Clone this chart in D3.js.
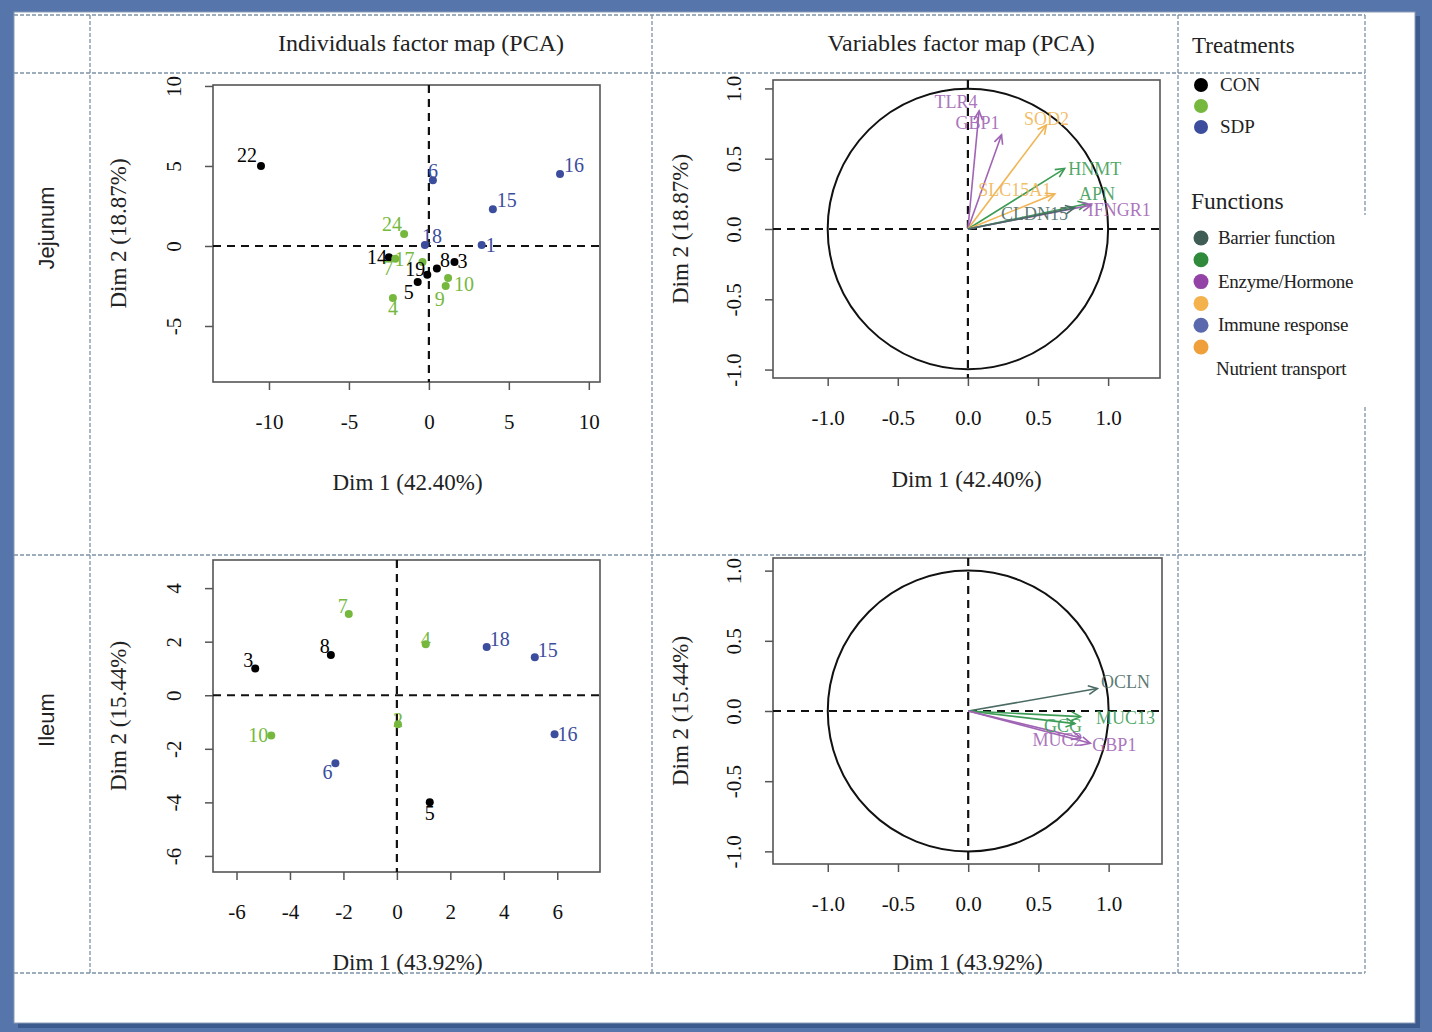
<!DOCTYPE html>
<html>
<head>
<meta charset="utf-8">
<script src="https://cdn.jsdelivr.net/npm/d3@7"></script>
<style>
  html, body { margin: 0; padding: 0; background: #5675ab; }
  svg { display: block; }
</style>
</head>
<body>
<div id="mainDiv"></div>
<script>
'use strict';

// ---- data ----
var jejunumIds       = ['22', '16', '15', '6', '1', '18', '24', '14', '7', '17', '19', '5', '8', '3', '10', '9', '4'];
var jejunumDim1      = [-10.5, 8.2, 4.0, 0.25, 3.3, -0.25, -1.55, -2.5, -2.1, -0.4, -0.1, -0.7, 0.5, 1.6, 1.2, 1.05, -2.25];
var jejunumDim2      = [5.0, 4.5, 2.3, 4.1, 0.06, 0.06, 0.75, -0.7, -0.8, -1.0, -1.8, -2.25, -1.4, -1.0, -2.0, -2.5, -3.25];
var jejunumTreatment = ['CON', 'SDP', 'SDP', 'SDP', 'SDP', 'SDP', 'G', 'CON', 'G', 'G', 'CON', 'CON', 'CON', 'CON', 'G', 'G', 'G'];

var ileumIds       = ['3', '8', '7', '4', '18', '15', '16', '10', '6', '5', '2'];
var ileumDim1      = [-5.3, -2.47, -1.8, 1.08, 3.36, 5.16, 5.9, -4.7, -2.3, 1.23, 0.04];
var ileumDim2      = [1.0, 1.5, 3.03, 1.9, 1.8, 1.42, -1.46, -1.5, -2.54, -4.0, -1.08];
var ileumTreatment = ['CON', 'CON', 'G', 'G', 'SDP', 'SDP', 'SDP', 'G', 'SDP', 'CON', 'G'];

var jejunumVars     = ['TLR4', 'GBP1', 'SOD2', 'HNMT', 'SLC15A1', 'APN', 'IFNGR1', 'CLDN15'];
var jejunumVarDim1  = [0.08, 0.24, 0.56, 0.69, 0.62, 0.85, 0.88, 0.76];
var jejunumVarDim2  = [0.84, 0.67, 0.74, 0.43, 0.25, 0.18, 0.17, 0.15];
var jejunumVarFunc  = ['Enzyme', 'Enzyme', 'Yellow', 'Green', 'Yellow', 'Green', 'Enzyme', 'Barrier'];

var ileumVars     = ['OCLN', 'MUC13', 'GCG', 'MUC2', 'GBP1'];
var ileumVarDim1  = [0.92, 0.80, 0.76, 0.80, 0.87];
var ileumVarDim2  = [0.16, -0.04, -0.09, -0.19, -0.23];
var ileumVarFunc  = ['Barrier', 'Green', 'Green', 'Enzyme', 'Enzyme'];

var jejunumXTicks = [-10, -5, 0, 5, 10];
var jejunumYTicks = [10, 5, 0, -5];
var ileumXTicks   = [-6, -4, -2, 0, 2, 4, 6];
var ileumYTicks   = [4, 2, 0, -2, -4, -6];
var varTicks      = [-1.0, -0.5, 0.0, 0.5, 1.0];

var treatmentKeys   = ['CON', 'G', 'SDP'];
var treatmentLabels = ['CON', '', 'SDP'];
var functionKeys    = ['Barrier', 'Green', 'Enzyme', 'Yellow', 'Immune', 'Nutrient'];
var functionLabels  = ['Barrier function', '', 'Enzyme/Hormone', '', 'Immune response', '', 'Nutrient transport'];

// ---- styles ----
var myApp = {};

myApp.treatmentColor = d3.scaleOrdinal()
    .domain(treatmentKeys)
    .range(['#000000', '#76b83e', '#3b4d9c']);

myApp.functionColor = d3.scaleOrdinal()
    .domain(functionKeys)
    .range(['#3f5c55', '#2f8a3c', '#9343a6', '#f3b24c', '#5a69ae', '#f0a03a']);

myApp.arrowColor = d3.scaleOrdinal()
    .domain(functionKeys)
    .range(['#4a6a64', '#3c9c55', '#a064b4', '#f0b555', '#5a69ae', '#f0a03a']);

myApp.serif = '"Liberation Serif", "DejaVu Serif", serif';
myApp.sans  = '"Liberation Sans", Arial, sans-serif';

// label offsets relative to the point, [dx, dy, anchor]
myApp.jejunumLabelPos = {
    '22': [-4, -4, 'end'], '16': [4, -2, 'start'], '15': [4, -2, 'start'], '6': [0, -2, 'middle'],
    '1': [4, 7, 'start'], '18': [-3, -2, 'start'], '24': [-2, -3, 'end'], '14': [-2, 7, 'end'],
    '7': [-2, 16, 'end'], '17': [-8, 4, 'end'], '19': [-2, 1, 'end'], '5': [-4, 17, 'end'],
    '8': [3, -1, 'start'], '3': [3, 6, 'start'], '10': [6, 13, 'start'], '9': [-6, 20, 'middle'],
    '4': [0, 17, 'middle']
};
myApp.ileumLabelPos = {
    '3': [-2, -1, 'end'], '8': [-1, -2, 'end'], '7': [-1, -1, 'end'], '4': [0, 2, 'middle'],
    '18': [3, -1, 'start'], '15': [3, 0, 'start'], '16': [3, 7, 'start'], '10': [-3, 7, 'end'],
    '6': [-3, 16, 'end'], '5': [0, 18, 'middle'], '2': [0, 3, 'middle']
};
myApp.jejunumVarLabelPos = {
    'TLR4': [-23, -3, 'middle'], 'GBP1': [-24, -6, 'middle'], 'SOD2': [0, 0, 'middle'],
    'HNMT': [30, 6, 'middle'], 'SLC15A1': [-40, 2, 'middle'], 'APN': [10, -4, 'middle'],
    'IFNGR1': [28, 11, 'middle'], 'CLDN15': [-40, 12, 'middle']
};
myApp.ileumVarLabelPos = {
    'OCLN': [28, -1, 'middle'], 'MUC13': [45, 7, 'middle'], 'GCG': [-12, 8, 'middle'],
    'MUC2': [-23, 8, 'middle'], 'GBP1': [24, 8, 'middle']
};

myApp.zip = function(ids, xs, ys, keys)
{
    var arr = [];
    for(var i=0; i<ids.length; i++)
    {
        arr.push({'id': ids[i], 'x': xs[i], 'y': ys[i], 'key': keys[i]});
    }
    return arr;
}

myApp.dashedGrid = function(svg, x1, y1, x2, y2)
{
    svg.append('line')
        .attr('x1', x1).attr('y1', y1).attr('x2', x2).attr('y2', y2)
        .attr('stroke', '#7f93a6')
        .attr('stroke-width', 1.3)
        .attr('stroke-dasharray', '4,2');
}

myApp.drawFrame = function(svg, cfg)
{
    var g = svg.append('g');
    var x = cfg.x, y = cfg.y;

    g.append('rect')
        .attr('x', x.range()[0]).attr('y', y.range()[0])
        .attr('width', x.range()[1] - x.range()[0])
        .attr('height', y.range()[1] - y.range()[0])
        .attr('fill', 'none')
        .attr('stroke', '#555')
        .attr('stroke-width', 1.6);

    var xAxis = g.append('g')
        .attr('transform', 'translate(0,' + y.range()[1] + ')')
        .call(d3.axisBottom(x).tickValues(cfg.xTicks).tickSize(8).tickPadding(24)
            .tickFormat(cfg.fmt));
    var yAxis = g.append('g')
        .attr('transform', 'translate(' + x.range()[0] + ',0)')
        .call(d3.axisLeft(y).tickValues(cfg.yTicks).tickSize(8).tickPadding(0)
            .tickFormat(cfg.fmt));

    [xAxis, yAxis].forEach(function(a){
        a.select('.domain').remove();
        a.selectAll('line').attr('stroke', '#555').attr('stroke-width', 1.5);
        a.selectAll('text')
            .attr('fill', '#111')
            .style('font-family', myApp.serif)
            .style('font-size', '21px');
    });

    yAxis.selectAll('text')
        .attr('x', null).attr('dy', null)
        .attr('text-anchor', 'middle')
        .attr('transform', 'translate(' + (-cfg.yLabelGap) + ',0) rotate(-90) translate(0,6)');

    // zero reference lines
    g.append('line')
        .attr('x1', x.range()[0]).attr('x2', x.range()[1])
        .attr('y1', y(0)).attr('y2', y(0))
        .attr('stroke', '#111').attr('stroke-width', 2.2).attr('stroke-dasharray', '8,6');
    g.append('line')
        .attr('x1', x(0)).attr('x2', x(0))
        .attr('y1', y.range()[0]).attr('y2', y.range()[1])
        .attr('stroke', '#111').attr('stroke-width', 2.2).attr('stroke-dasharray', '8,6');

    g.append('text')
        .attr('x', (x.range()[0] + x.range()[1]) / 2 + cfg.xTitleDx)
        .attr('y', cfg.xTitleY)
        .attr('text-anchor', 'middle')
        .style('font-family', myApp.serif).style('font-size', '23px').attr('fill', '#222')
        .text(cfg.xTitle);
    g.append('text')
        .attr('transform', 'translate(' + cfg.yTitleX + ',' + ((y.range()[0] + y.range()[1]) / 2) + ') rotate(-90)')
        .attr('text-anchor', 'middle')
        .attr('dy', '0.35em')
        .style('font-family', myApp.serif).style('font-size', '23px').attr('fill', '#222')
        .text(cfg.yTitle);

    return g;
}

myApp.drawIndividuals = function(svg, cfg, pts, labelPos)
{
    var g = myApp.drawFrame(svg, cfg);
    var x = cfg.x, y = cfg.y;

    g.selectAll('circle.pt')
        .data(pts)
        .enter()
        .append('circle')
        .attr('class', 'pt')
        .attr('cx', function(d){ return x(d.x); })
        .attr('cy', function(d){ return y(d.y); })
        .attr('r', 4)
        .attr('fill', function(d){ return myApp.treatmentColor(d.key); });

    g.selectAll('text.lab')
        .data(pts)
        .enter()
        .append('text')
        .attr('class', 'lab')
        .attr('x', function(d){ return x(d.x) + labelPos[d.id][0]; })
        .attr('y', function(d){ return y(d.y) + labelPos[d.id][1]; })
        .attr('text-anchor', function(d){ return labelPos[d.id][2]; })
        .style('font-family', myApp.serif).style('font-size', '20px')
        .attr('fill', function(d){ return myApp.treatmentColor(d.key); })
        .text(function(d){ return d.id; });
}

myApp.drawVariables = function(svg, cfg, vars, labelPos)
{
    var g = myApp.drawFrame(svg, cfg);
    var x = cfg.x, y = cfg.y;

    g.append('circle')
        .attr('cx', x(0)).attr('cy', y(0))
        .attr('r', x(1) - x(0))
        .attr('fill', 'none')
        .attr('stroke', '#111')
        .attr('stroke-width', 2);

    var arrows = g.selectAll('g.arr')
        .data(vars)
        .enter()
        .append('g')
        .attr('class', 'arr')
        .attr('stroke', function(d){ return myApp.arrowColor(d.key); })
        .attr('stroke-width', 1.6)
        .attr('fill', 'none');

    arrows.append('line')
        .attr('x1', x(0)).attr('y1', y(0))
        .attr('x2', function(d){ return x(d.x); })
        .attr('y2', function(d){ return y(d.y); });

    arrows.append('path')
        .attr('d', function(d){
            var tx = x(d.x), ty = y(d.y);
            var a = Math.atan2(ty - y(0), tx - x(0));
            var len = 10, spread = Math.PI / 7;
            var p1 = [tx - len * Math.cos(a - spread), ty - len * Math.sin(a - spread)];
            var p2 = [tx - len * Math.cos(a + spread), ty - len * Math.sin(a + spread)];
            return 'M' + p1 + 'L' + tx + ',' + ty + 'L' + p2;
        });

    g.selectAll('text.vlab')
        .data(vars)
        .enter()
        .append('text')
        .attr('class', 'vlab')
        .attr('x', function(d){ return x(d.x) + labelPos[d.id][0]; })
        .attr('y', function(d){ return y(d.y) + labelPos[d.id][1]; })
        .attr('text-anchor', function(d){ return labelPos[d.id][2]; })
        .style('font-family', myApp.serif).style('font-size', '18px')
        .attr('fill', function(d){ return myApp.arrowColor(d.key); })
        .attr('fill-opacity', 0.9)
        .text(function(d){ return d.id; });
}

myApp.drawLegend = function(svg)
{
    var g = svg.append('g');
    g.append('text')
        .attr('x', 1192).attr('y', 53)
        .style('font-family', myApp.serif).style('font-size', '23px').attr('fill', '#222')
        .text('Treatments');

    var rowT = d3.scalePoint().domain(treatmentKeys).range([85, 127]);
    g.selectAll('circle.t')
        .data(treatmentKeys)
        .enter()
        .append('circle')
        .attr('cx', 1201).attr('cy', function(d){ return rowT(d); })
        .attr('r', 7)
        .attr('fill', function(d){ return myApp.treatmentColor(d); });
    g.selectAll('text.t')
        .data(treatmentLabels)
        .enter()
        .append('text')
        .attr('x', 1220).attr('y', function(d, i){ return rowT(treatmentKeys[i]) + 6; })
        .style('font-family', myApp.serif).style('font-size', '19px').attr('fill', '#222')
        .text(function(d){ return d; });

    g.append('text')
        .attr('x', 1191).attr('y', 209)
        .style('font-family', myApp.serif).style('font-size', '23.5px').attr('fill', '#222')
        .text('Functions');

    var rowF = d3.scaleLinear().domain([0, 1]).range([238, 259.8]);
    g.selectAll('circle.f')
        .data(functionKeys)
        .enter()
        .append('circle')
        .attr('cx', 1201).attr('cy', function(d, i){ return rowF(i); })
        .attr('r', 7.5)
        .attr('fill', function(d){ return myApp.functionColor(d); });
    g.selectAll('text.f')
        .data(functionLabels)
        .enter()
        .append('text')
        .attr('x', function(d, i){ return i < functionKeys.length ? 1218 : 1216; })
        .attr('y', function(d, i){ return rowF(i) + 6; })
        .style('font-family', myApp.serif).style('font-size', '19px').attr('fill', '#222')
        .attr('letter-spacing', '-0.3')
        .text(function(d){ return d; });
}

myApp.run = function()
{
    var svg = d3.select('#mainDiv').append('svg')
        .attr('width', 1432)
        .attr('height', 1032);

    // page
    svg.append('rect').attr('x', 0).attr('y', 0).attr('width', 1432).attr('height', 1032).attr('fill', '#5675ab');
    svg.append('rect').attr('x', 18).attr('y', 16).attr('width', 1402).attr('height', 1012).attr('fill', '#3d5a8e');
    svg.append('rect').attr('x', 14).attr('y', 12).attr('width', 1401).attr('height', 1011)
        .attr('fill', '#ffffff').attr('stroke', '#8a9bb5').attr('stroke-width', 1);

    // table grid
    myApp.dashedGrid(svg, 14, 15, 1365, 15);
    myApp.dashedGrid(svg, 14, 73, 1365, 73);
    myApp.dashedGrid(svg, 14, 555, 1365, 555);
    myApp.dashedGrid(svg, 14, 973, 1365, 973);
    myApp.dashedGrid(svg, 90, 15, 90, 973);
    myApp.dashedGrid(svg, 652, 15, 652, 973);
    myApp.dashedGrid(svg, 1178, 15, 1178, 973);
    myApp.dashedGrid(svg, 1365, 15, 1365, 215);
    myApp.dashedGrid(svg, 1365, 407, 1365, 973);

    // headings
    svg.append('text').attr('x', 421).attr('y', 51).attr('text-anchor', 'middle')
        .style('font-family', myApp.serif).style('font-size', '24px').attr('fill', '#222')
        .text('Individuals factor map (PCA)');
    svg.append('text').attr('x', 961).attr('y', 51).attr('text-anchor', 'middle')
        .style('font-family', myApp.serif).style('font-size', '24px').attr('fill', '#222')
        .text('Variables factor map (PCA)');
    svg.append('text').attr('transform', 'translate(54,228) rotate(-90)').attr('text-anchor', 'middle')
        .style('font-family', myApp.sans).style('font-size', '22px').attr('fill', '#222')
        .text('Jejunum');
    svg.append('text').attr('transform', 'translate(54,720) rotate(-90)').attr('text-anchor', 'middle')
        .style('font-family', myApp.sans).style('font-size', '22px').attr('fill', '#222')
        .text('Ileum');

    var fmtInt = function(v){ return String(v); };
    var fmtDec = function(v){ return d3.format('.1f')(v).replace('\u2212', '-'); };

    myApp.drawIndividuals(svg, {
        x: d3.scaleLinear().domain([-13.5, 10.7]).range([213, 600]),
        y: d3.scaleLinear().domain([10.06, -8.5]).range([85, 382]),
        xTicks: jejunumXTicks, yTicks: jejunumYTicks, fmt: fmtInt, yLabelGap: 38,
        xTitle: 'Dim 1 (42.40%)', yTitle: 'Dim 2 (18.87%)', xTitleDx: 1, xTitleY: 490, yTitleX: 118
    }, myApp.zip(jejunumIds, jejunumDim1, jejunumDim2, jejunumTreatment), myApp.jejunumLabelPos);

    myApp.drawIndividuals(svg, {
        x: d3.scaleLinear().domain([-6.88, 7.6]).range([213, 600]),
        y: d3.scaleLinear().domain([5.05, -6.6]).range([560, 872]),
        xTicks: ileumXTicks, yTicks: ileumYTicks, fmt: fmtInt, yLabelGap: 38,
        xTitle: 'Dim 1 (43.92%)', yTitle: 'Dim 2 (15.44%)', xTitleDx: 1, xTitleY: 970, yTitleX: 118
    }, myApp.zip(ileumIds, ileumDim1, ileumDim2, ileumTreatment), myApp.ileumLabelPos);

    myApp.drawVariables(svg, {
        x: d3.scaleLinear().domain([-1.39, 1.37]).range([773, 1160]),
        y: d3.scaleLinear().domain([1.06, -1.06]).range([80, 378]),
        xTicks: varTicks, yTicks: varTicks, fmt: fmtDec, yLabelGap: 38,
        xTitle: 'Dim 1 (42.40%)', yTitle: 'Dim 2 (18.87%)', xTitleDx: 0, xTitleY: 487, yTitleX: 680
    }, myApp.zip(jejunumVars, jejunumVarDim1, jejunumVarDim2, jejunumVarFunc), myApp.jejunumVarLabelPos);

    myApp.drawVariables(svg, {
        x: d3.scaleLinear().domain([-1.39, 1.38]).range([773, 1162]),
        y: d3.scaleLinear().domain([1.09, -1.09]).range([558, 864]),
        xTicks: varTicks, yTicks: varTicks, fmt: fmtDec, yLabelGap: 38,
        xTitle: 'Dim 1 (43.92%)', yTitle: 'Dim 2 (15.44%)', xTitleDx: 0, xTitleY: 970, yTitleX: 680
    }, myApp.zip(ileumVars, ileumVarDim1, ileumVarDim2, ileumVarFunc), myApp.ileumVarLabelPos);

    myApp.drawLegend(svg);
}

window.myApp = myApp;
myApp.run();
</script>
</body>
</html>
